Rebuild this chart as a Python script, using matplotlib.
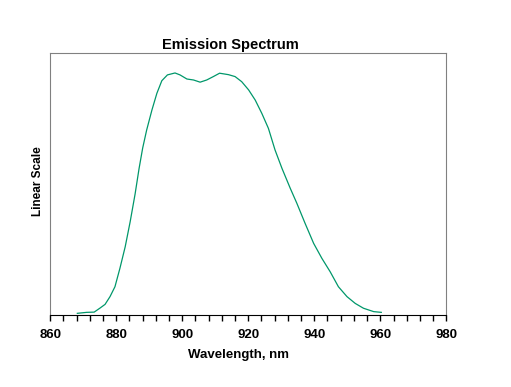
import numpy as np
import matplotlib
matplotlib.use('Agg')
import matplotlib.pyplot as plt
from matplotlib.ticker import MultipleLocator

plt.rcParams['font.family'] = ['Liberation Sans', 'DejaVu Sans']

# wavelength (nm) and relative intensity
wavelength = [868.2, 871.0, 873.3, 875.1, 876.6, 878.1, 879.6, 881.1, 882.7, 884.2,
              885.7, 886.9, 888.0, 889.2, 890.8, 892.3, 893.8, 895.5, 897.8, 899.3,
              901.4, 903.4, 905.4, 907.4, 909.4, 911.3, 914.0, 916.0, 918.0, 920.1,
              922.1, 924.1, 926.1, 928.1, 930.2, 932.7, 934.7, 937.2, 939.8, 942.3,
              944.8, 947.3, 949.9, 952.4, 954.9, 958.0, 960.3]
intensity = [0.007, 0.011, 0.012, 0.029, 0.044, 0.076, 0.117, 0.193, 0.282, 0.385,
             0.500, 0.605, 0.690, 0.764, 0.847, 0.916, 0.968, 0.992, 1.000, 0.992,
             0.975, 0.971, 0.962, 0.971, 0.985, 0.999, 0.993, 0.985, 0.964, 0.930,
             0.888, 0.833, 0.771, 0.682, 0.606, 0.524, 0.462, 0.379, 0.296, 0.234,
             0.179, 0.117, 0.076, 0.048, 0.028, 0.014, 0.011]
xticks = [860, 880, 900, 920, 940, 960, 980]

fig = plt.figure(figsize=(5.11, 3.87), dpi=100)
ax = fig.add_axes([0.0984, 0.186, 0.775, 0.678])

ax.plot(wavelength, intensity, color='#00976A', lw=0.9)

ax.set_xlim(860, 980)
ax.set_ylim(0, 1.084)
ax.set_xticks(xticks)
ax.xaxis.set_minor_locator(MultipleLocator(4))
ax.set_yticks([])
ax.tick_params(axis='x', which='major', direction='out', length=4, width=1,
               labelsize=9.5, pad=6)
ax.tick_params(axis='x', which='minor', direction='out', length=4, width=1)
for lab in ax.get_xticklabels():
    lab.set_fontweight('bold')
for side in ['left', 'right', 'top']:
    ax.spines[side].set_color('#808080')
ax.spines['bottom'].set_color('black')

fig.text(230 / 511, 1 - 45 / 387, 'Emission Spectrum', ha='center', va='center',
         fontsize=10.5, fontweight='bold')
fig.text(239 / 511, 1 - 355 / 387, 'Wavelength, nm', ha='center', va='center',
         fontsize=9.5, fontweight='bold')
fig.text(38 / 511, 1 - 181 / 387, 'Linear Scale', ha='center', va='center',
         rotation=90, fontsize=8.5, fontweight='bold')

fig.savefig('out.png', dpi=100)
